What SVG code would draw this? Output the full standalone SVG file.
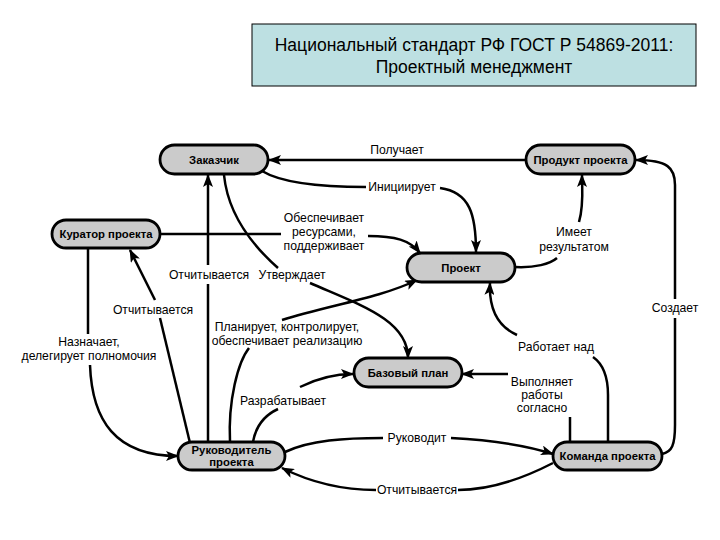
<svg xmlns="http://www.w3.org/2000/svg" width="720" height="540" viewBox="0 0 720 540">
<defs>
<marker id="arr" viewBox="0 0 13 10" refX="12" refY="5" markerWidth="13" markerHeight="10" markerUnits="userSpaceOnUse" orient="auto">
<path d="M0,0 L13,5 L0,10 L3,5 Z" fill="#000"/>
</marker>
</defs>
<style>
.node rect{fill:#cbcbcb;stroke:#000;stroke-width:2.8}
.node text{font-family:"Liberation Sans",Arial,sans-serif;font-weight:bold;font-size:11.3px;fill:#000;text-anchor:middle}
.c path{fill:none;stroke:#000;stroke-width:2.5}
.c path.a{marker-end:url(#arr)}
.lbl{font-family:"Liberation Sans",Arial,sans-serif;font-size:12.2px;fill:#000;text-anchor:middle}
.title{font-family:"Liberation Sans",Arial,sans-serif;font-size:17.5px;fill:#000;text-anchor:middle}
</style>
<rect width="720" height="540" fill="#fff"/>
<g id="title">
<rect x="252" y="24" width="444" height="62" fill="#bde0e2" stroke="#000" stroke-width="1"/>
<text class="title" x="474" y="51">Национальный стандарт РФ ГОСТ Р 54869-2011:</text>
<text class="title" x="474" y="73">Проектный менеджмент</text>
</g>
<g class="c" id="connectors">
<!-- Получает -->
<path class="a" d="M526,160 L269,160"/>
<text class="lbl" x="397" y="154">Получает</text>
<!-- Инициирует -->
<path d="M262,171 C285,185 330,187 366,187"/>
<path class="a" d="M440,188 C470,192 476,215 476,252"/>
<text class="lbl" x="402" y="191">Инициирует</text>
<!-- Обеспечивает -->
<path d="M160,234 L281,234"/>
<path class="a" d="M368,236 C395,236 410,240 420,253"/>
<text class="lbl" x="324" y="222">Обеспечивает</text>
<text class="lbl" x="324" y="236">ресурсами,</text>
<text class="lbl" x="324" y="250">поддерживает</text>
<!-- Отчитывается (Руководитель -> Заказчик) -->
<path d="M208,442 L208,284"/>
<path class="a" d="M208,265 L208,175"/>
<text class="lbl" x="209" y="279">Отчитывается</text>
<!-- Утверждает -->
<path d="M224,175 C228,215 252,245 278,268"/>
<path class="a" d="M310,283 C360,305 408,320 408,358"/>
<text class="lbl" x="292" y="279">Утверждает</text>
<!-- Отчитывается (Руководитель -> Куратор) -->
<path d="M190,443 L160,318"/>
<path class="a" d="M155,300 L130,250"/>
<text class="lbl" x="153" y="314">Отчитывается</text>
<!-- Назначает -->
<path d="M88,248 L88,334"/>
<path class="a" d="M90,365 C92,420 115,456 178,456"/>
<text class="lbl" x="89" y="346">Назначает,</text>
<text class="lbl" x="89" y="360">делегирует полномочия</text>
<!-- Планирует -->
<path d="M230,442 C228,400 238,362 249,348"/>
<path class="a" d="M282,320 C330,305 380,298 417,280"/>
<text class="lbl" x="287" y="331">Планирует, контролирует,</text>
<text class="lbl" x="287" y="345">обеспечивает реализацию</text>
<!-- Разрабатывает -->
<path d="M253,442 C256,425 265,415 278,409"/>
<path class="a" d="M300,387 C318,378 335,374 353,374"/>
<text class="lbl" x="283" y="405">Разрабатывает</text>
<!-- Выполняет работы согласно -->
<path d="M570,442 L570,417"/>
<path class="a" d="M508,374 L462,374"/>
<text class="lbl" x="542" y="386">Выполняет</text>
<text class="lbl" x="542" y="399">работы</text>
<text class="lbl" x="542" y="412">согласно</text>
<!-- Работает над -->
<path d="M608,442 L608,395 C608,378 603,364 593,357"/>
<path class="a" d="M517,335 C495,325 489,305 490,283"/>
<text class="lbl" x="556" y="351">Работает над</text>
<!-- Имеет результатом -->
<path d="M515,267 C535,268 550,264 557,258"/>
<path class="a" d="M579,222 C584,205 582,190 582,175"/>
<text class="lbl" x="574" y="236">Имеет</text>
<text class="lbl" x="574" y="251">результатом</text>
<!-- Создает -->
<path d="M662,454 C672,452 675,445 675,425 L675,318"/>
<path class="a" d="M675,299 L675,185 C675,168 668,160 636,160"/>
<text class="lbl" x="675" y="312">Создает</text>
<!-- Руководит -->
<path d="M285,452 C310,440 345,438 383,438"/>
<path class="a" d="M451,438 C490,440 525,445 553,454"/>
<text class="lbl" x="417" y="442">Руководит</text>
<!-- Отчитывается (Команда -> Руководитель) -->
<path d="M553,463 C520,480 490,490 458,490"/>
<path class="a" d="M376,490 C340,490 310,482 282,468"/>
<text class="lbl" x="417" y="494">Отчитывается</text>
</g>
<g id="zakazchik" class="node"><rect x="160" y="145" width="108" height="29" rx="14.5"/><text x="214" y="163.5">Заказчик</text></g>
<g id="produkt" class="node"><rect x="526" y="145" width="109" height="29" rx="14.5"/><text x="580.5" y="163.5">Продукт проекта</text></g>
<g id="kurator" class="node"><rect x="52" y="220" width="108" height="28" rx="14"/><text x="106" y="238">Куратор проекта</text></g>
<g id="proekt" class="node"><rect x="407" y="253" width="108" height="29" rx="14.5"/><text x="461" y="271.5">Проект</text></g>
<g id="bazovy" class="node"><rect x="354" y="358" width="108" height="29" rx="14.5"/><text x="408" y="376.5">Базовый план</text></g>
<g id="rukovoditel" class="node"><rect x="178" y="442" width="107" height="28" rx="14"/><text x="231.5" y="454">Руководитель</text><text x="231.5" y="466">проекта</text></g>
<g id="komanda" class="node"><rect x="553" y="442" width="109" height="28" rx="14"/><text x="607.5" y="460">Команда проекта</text></g>
</svg>
